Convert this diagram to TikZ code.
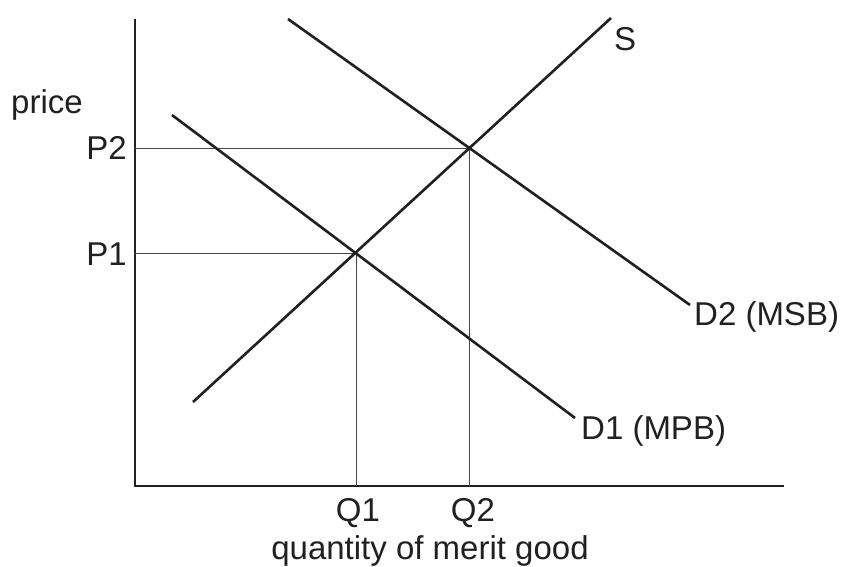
\documentclass[tikz,border=0pt]{standalone}
\usepackage{fontspec}
\setmainfont{Liberation Sans}
\usetikzlibrary{positioning,calc}

\begin{document}
\begin{tikzpicture}[x=1pt, y=-1pt, font=\fontsize{33}{38}\selectfont,
  curve/.style={line width=2.6pt, draw=inkcol},
  axis/.style={line width=1.4pt, draw=inkcol},
  guide/.style={line width=1pt, draw=guidecol},
  lbl/.style={inner sep=0pt, text=inkcol}]

\definecolor{inkcol}{RGB}{35,31,32}
\definecolor{guidecol}{RGB}{70,70,70}

\useasboundingbox (0,0) rectangle (849,566);

% ---------------- axes ----------------
\coordinate (top)    at (135,19);
\coordinate (origin) at (135,486);
\coordinate (right)  at (784,486);
\draw[axis] (top) -- (origin) -- (right);

% ---------------- equilibria ----------------
\coordinate (e1) at (356,253);
\coordinate (e2) at (469,148);
\coordinate (p1) at (origin |- e1);
\coordinate (p2) at (origin |- e2);
\coordinate (q1) at (origin -| e1);
\coordinate (q2) at (origin -| e2);
\draw[guide] (p1) -- (e1) -- (q1);
\draw[guide] (p2) -- (e2) -- (q2);

% ---------------- curves ----------------
\coordinate (sLow)   at (193,402);
\coordinate (sHigh)  at (611,18);
\coordinate (d1High) at (172,115);
\coordinate (d1Low)  at (575,418);
\coordinate (d2High) at (288,19);
\coordinate (d2Low)  at (690,305);
\draw[curve] (sLow) -- (sHigh);
\draw[curve] (d1High) -- (d1Low);
\draw[curve] (d2High) -- (d2Low);

% ---------------- labels ----------------
\node[lbl, anchor=base west] (price) at (11,113) {price};
\node[lbl, anchor=base east] (pTwo)  at (127,159) {P2};
\node[lbl, anchor=base east] (pOne)  at (127,265) {P1};
\node[lbl, anchor=base west] (sLbl)  at (614,50)  {S};
\node[lbl, anchor=base west] (dTwo)  at (694,325) {D2 (MSB)};
\node[lbl, anchor=base west] (dOne)  at (581,439) {D1 (MPB)};
\node[lbl, anchor=base] (qOne) at (358,521) {Q1};
\node[lbl, anchor=base] (qTwo) at (473,521) {Q2};
\node[lbl, anchor=base] (qty)  at (430,559) {quantity of merit good};

\end{tikzpicture}
\end{document}
